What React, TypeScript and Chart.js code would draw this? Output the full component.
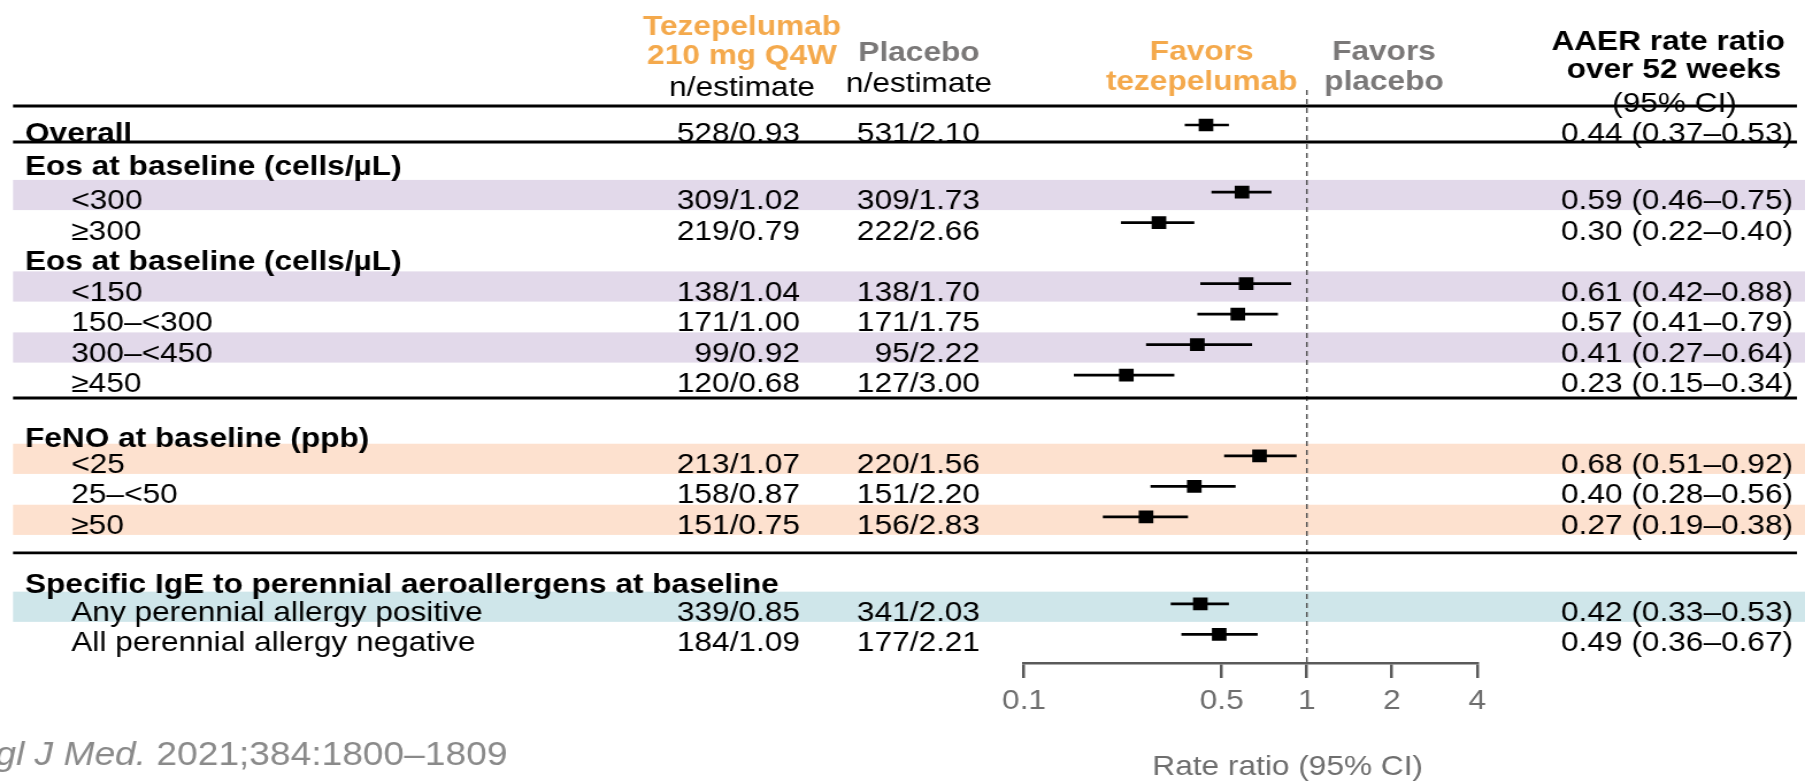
import { useEffect, useRef } from 'react';
import { Chart, registerables } from 'chart.js';

Chart.register(...registerables);

// ---------- data ----------
const ROW_LABELS = [
  'Overall',
  'Eos at baseline (cells/µL)',
  '<300',
  '≥300',
  'Eos at baseline (cells/µL)',
  '<150',
  '150–<300',
  '300–<450',
  '≥450',
  'FeNO at baseline (ppb)',
  '<25',
  '25–<50',
  '≥50',
  'Specific IgE to perennial aeroallergens at baseline',
  'Any perennial allergy positive',
  'All perennial allergy negative',
];
const ROW_KIND = [
  'overall', 'header', 'item', 'item', 'header', 'item', 'item', 'item', 'item',
  'header', 'item', 'item', 'item', 'header', 'item', 'item',
];
// vertical row positions (row units, top to bottom)
const ROW_Y = [0, 1.08, 2.2, 3.2, 4.2, 5.2, 6.2, 7.2, 8.2, 10.0, 10.85, 11.85, 12.85, 14.8, 15.7, 16.7];
const TEZ_N = [528, null, 309, 219, null, 138, 171, 99, 120, null, 213, 158, 151, null, 339, 184];
const TEZ_EST = [0.93, null, 1.02, 0.79, null, 1.04, 1.0, 0.92, 0.68, null, 1.07, 0.87, 0.75, null, 0.85, 1.09];
const PBO_N = [531, null, 309, 222, null, 138, 171, 95, 127, null, 220, 151, 156, null, 341, 177];
const PBO_EST = [2.1, null, 1.73, 2.66, null, 1.7, 1.75, 2.22, 3.0, null, 1.56, 2.2, 2.83, null, 2.03, 2.21];
const RATE_RATIO = [0.44, null, 0.59, 0.3, null, 0.61, 0.57, 0.41, 0.23, null, 0.68, 0.4, 0.27, null, 0.42, 0.49];
const CI_LOW = [0.37, null, 0.46, 0.22, null, 0.42, 0.41, 0.27, 0.15, null, 0.51, 0.28, 0.19, null, 0.33, 0.36];
const CI_HIGH = [0.53, null, 0.75, 0.4, null, 0.88, 0.79, 0.64, 0.34, null, 0.92, 0.56, 0.38, null, 0.53, 0.67];
const SHADED = [false, false, true, false, false, true, false, true, false, false, true, false, true, false, true, false];
const ROW_GROUP = ['overall', 'eos', 'eos', 'eos', 'eos', 'eos', 'eos', 'eos', 'eos', 'feno', 'feno', 'feno', 'feno', 'ige', 'ige', 'ige'];
const SEPARATOR_Y = [-0.623, 0.557, 8.95, 14.03];
const TICK_VALUES = [0.1, 0.5, 1, 2, 4];
const TICK_LABELS = ['0.1', '0.5', '1', '2', '4'];
const X_MIN = 0.1;
const X_MAX = 4;
const Y_MIN = -1.1475;
const Y_MAX = 17.639;

// ---------- styles ----------
const FONT = '"Liberation Sans", Arial, Helvetica, sans-serif';
const FS = 27.5;
const ORANGE = '#F4A94C';
const GREY_HEAD = '#7a7878';
const AXIS_GREY = '#5a5a5a';
const TICK_GREY = '#6e6e6e';
const CITE_GREY = '#8a8a8a';
const GROUP_COLOR: Record<string, string> = {
  eos: '#E2D9EA',
  feno: '#FDE1CF',
  ige: '#CFE6EA',
};
const LOGICAL_W = 1570;
const LOGICAL_H = 784;
const L = {
  lineLeft: 11.3,
  lineRight: 1563,
  headerX: 21.7,
  itemX: 62,
  tezRight: 695.8,
  tezCenter: 645.4,
  pboRight: 852.4,
  pboCenter: 799.3,
  rrRight: 1559.6,
  favTezCenter: 1045.2,
  favPboCenter: 1203.8,
  textDrop: 17,
};

function fmt2(v: number) {
  return v.toFixed(2);
}

function drawText(
  ctx: CanvasRenderingContext2D,
  s: string,
  x: number,
  y: number,
  opt: { size?: number; bold?: boolean; italic?: boolean; color?: string; align?: CanvasTextAlign } = {}
) {
  ctx.save();
  ctx.font = `${opt.italic ? 'italic ' : ''}${opt.bold ? 'bold ' : ''}${opt.size ?? FS}px ${FONT}`;
  ctx.fillStyle = opt.color ?? '#000';
  ctx.textAlign = opt.align ?? 'left';
  ctx.textBaseline = 'alphabetic';
  ctx.fillText(s, x, y);
  const w = ctx.measureText(s).width;
  ctx.restore();
  return w;
}

const tablePlugin = {
  id: 'forestTable',
  beforeDatasetsDraw(chart: any) {
    const ctx: CanvasRenderingContext2D = chart.ctx;
    const ys = chart.scales.y;
    ctx.save();
    ROW_Y.forEach((v, i) => {
      if (!SHADED[i]) return;
      const top = ys.getPixelForValue(v - 0.4);
      const bot = ys.getPixelForValue(v + 0.59);
      ctx.fillStyle = GROUP_COLOR[ROW_GROUP[i]];
      ctx.fillRect(L.lineLeft, top, chart.width - L.lineLeft, bot - top);
    });
    ctx.restore();
  },
  afterDraw(chart: any) {
    const ctx: CanvasRenderingContext2D = chart.ctx;
    const ys = chart.scales.y;

    // separator lines
    ctx.save();
    ctx.strokeStyle = '#000';
    ctx.lineWidth = 2.8;
    SEPARATOR_Y.forEach((v) => {
      const py = ys.getPixelForValue(v);
      ctx.beginPath();
      ctx.moveTo(L.lineLeft, py);
      ctx.lineTo(L.lineRight, py);
      ctx.stroke();
    });
    ctx.restore();

    // column headers
    drawText(ctx, 'Tezepelumab', L.tezCenter, 35, { bold: true, color: ORANGE, align: 'center' });
    drawText(ctx, '210 mg Q4W', L.tezCenter, 64, { bold: true, color: ORANGE, align: 'center' });
    drawText(ctx, 'n/estimate', L.tezCenter, 96, { align: 'center' });
    drawText(ctx, 'Placebo', L.pboCenter, 61, { bold: true, color: GREY_HEAD, align: 'center' });
    drawText(ctx, 'n/estimate', L.pboCenter, 92, { align: 'center' });
    drawText(ctx, 'Favors', L.favTezCenter, 60, { bold: true, color: ORANGE, align: 'center' });
    drawText(ctx, 'tezepelumab', L.favTezCenter, 90, { bold: true, color: ORANGE, align: 'center' });
    drawText(ctx, 'Favors', L.favPboCenter, 60, { bold: true, color: GREY_HEAD, align: 'center' });
    drawText(ctx, 'placebo', L.favPboCenter, 90, { bold: true, color: GREY_HEAD, align: 'center' });
    drawText(ctx, 'AAER rate ratio', 1451, 50, { bold: true, align: 'center' });
    drawText(ctx, 'over 52 weeks', 1456, 78, { bold: true, align: 'center' });
    drawText(ctx, '(95% CI)', 1456.5, 112, { align: 'center' });

    // rows
    ROW_LABELS.forEach((label, i) => {
      const py = ys.getPixelForValue(ROW_Y[i]) + L.textDrop;
      const kind = ROW_KIND[i];
      drawText(ctx, label, kind === 'item' ? L.itemX : L.headerX, py, { bold: kind !== 'item' });
      if (TEZ_N[i] != null) {
        drawText(ctx, `${TEZ_N[i]}/${fmt2(TEZ_EST[i] as number)}`, L.tezRight, py, { align: 'right' });
        drawText(ctx, `${PBO_N[i]}/${fmt2(PBO_EST[i] as number)}`, L.pboRight, py, { align: 'right' });
      }
      if (RATE_RATIO[i] != null) {
        drawText(
          ctx,
          `${fmt2(RATE_RATIO[i] as number)} (${fmt2(CI_LOW[i] as number)}–${fmt2(CI_HIGH[i] as number)})`,
          L.rrRight,
          py,
          { align: 'right' }
        );
      }
    });

    // axis title
    drawText(ctx, 'Rate ratio (95% CI)', 1120, 775, { color: TICK_GREY, align: 'center' });

    // citation
    const w = drawText(ctx, 'gl J Med. ', -4, 765, { italic: true, size: 32.3, color: CITE_GREY });
    drawText(ctx, '2021;384:1800–1809', -4 + w, 765, { size: 32.3, color: CITE_GREY });
  },
};

export default function App() {
  const ref = useRef<HTMLCanvasElement>(null);

  useEffect(() => {
    const canvas = ref.current;
    if (!canvas) return;

    const idx = ROW_Y.map((_, i) => i).filter((i) => RATE_RATIO[i] != null);

    const ciDatasets = idx.map((i) => ({
      type: 'line' as const,
      data: [
        { x: CI_LOW[i] as number, y: ROW_Y[i] },
        { x: CI_HIGH[i] as number, y: ROW_Y[i] },
      ],
      borderColor: '#000',
      borderWidth: 2.7,
      pointRadius: 0,
      showLine: true,
      fill: false,
    }));

    const chart = new Chart(canvas, {
      type: 'scatter',
      data: {
        datasets: [
          {
            type: 'line',
            data: [
              { x: 1, y: Y_MIN },
              { x: 1, y: Y_MAX },
            ],
            borderColor: '#555',
            borderWidth: 1.5,
            borderDash: [5, 4],
            pointRadius: 0,
            showLine: true,
            fill: false,
          } as any,
          ...(ciDatasets as any[]),
          {
            type: 'scatter',
            data: idx.map((i) => ({ x: RATE_RATIO[i] as number, y: ROW_Y[i] })),
            pointStyle: 'rect',
            pointRadius: 9,
            pointHoverRadius: 9,
            backgroundColor: '#000',
            borderColor: '#000',
            borderWidth: 0,
          } as any,
        ],
      },
      options: {
        responsive: false,
        animation: false,
        devicePixelRatio: 1,
        events: [],
        layout: { padding: { left: 890.7, right: LOGICAL_W - 1284.8, top: 90, bottom: 0 } },
        plugins: {
          legend: { display: false },
          tooltip: { enabled: false },
          title: { display: false },
        },
        scales: {
          x: {
            type: 'logarithmic',
            position: 'bottom',
            min: X_MIN,
            max: X_MAX,
            afterBuildTicks: (scale: any) => {
              scale.ticks = TICK_VALUES.map((v) => ({ value: v }));
            },
            afterFit: (scale: any) => {
              scale.height = LOGICAL_H - 663;
            },
            ticks: {
              autoSkip: false,
              maxRotation: 0,
              minRotation: 0,
              padding: 7,
              color: TICK_GREY,
              font: { family: FONT, size: FS },
              callback: (_v: any, i: number) => TICK_LABELS[i],
            },
            grid: {
              drawOnChartArea: false,
              drawTicks: true,
              tickLength: 15,
              color: AXIS_GREY,
              lineWidth: 2.5,
            },
            border: { display: true, color: AXIS_GREY, width: 2.5 },
          },
          y: {
            type: 'linear',
            min: Y_MIN,
            max: Y_MAX,
            reverse: true,
            display: false,
          },
        },
      } as any,
      plugins: [tablePlugin],
    });

    return () => chart.destroy();
  }, []);

  return (
    <div style={{ position: 'absolute', left: 0, top: 0, width: 1805, height: 784, background: '#fff' }}>
      <canvas
        ref={ref}
        width={LOGICAL_W}
        height={LOGICAL_H}
        style={{ width: '1805px', height: '784px', display: 'block' }}
      />
    </div>
  );
}
